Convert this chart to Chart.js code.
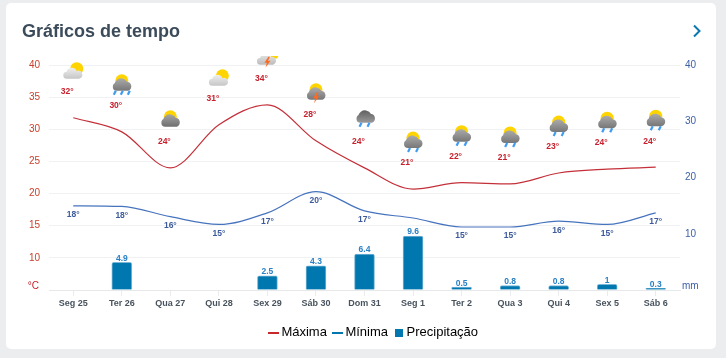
<!DOCTYPE html>
<html lang="pt">
<head>
<meta charset="utf-8">
<title>Gráficos de tempo</title>
<script src="https://cdn.jsdelivr.net/npm/chart.js@4"></script>
<style>
  html, body { margin: 0; padding: 0; width: 726px; height: 358px; background: #ebedef; overflow: hidden; }
  .card { position: absolute; left: 6px; top: 3px; width: 710px; height: 346px; background: #fff; border-radius: 5px; }
  .title { position: absolute; left: 22px; top: 20px; font: bold 18px "Liberation Sans", Arial, sans-serif; line-height: 22px; color: #3c4b5a; z-index: 2; }
  .next { position: absolute; left: 692px; top: 24px; z-index: 2; }
  .wrap { position: absolute; left: 0; top: 0; width: 726px; height: 358px; }
</style>
</head>
<body>
<div class="card"></div>
<div class="title">Gráficos de tempo</div>
<svg class="next" width="10" height="14" viewBox="0 0 10 14"><path d="M2 1.5 L7.5 7 L2 12.5" fill="none" stroke="#0a78b0" stroke-width="2"/></svg>
<div class="wrap"><canvas id="chart"></canvas></div>
<script>
const categories = ['Seg 25', 'Ter 26', 'Qua 27', 'Qui 28', 'Sex 29', 'Sáb 30', 'Dom 31', 'Seg 1', 'Ter 2', 'Qua 3', 'Qui 4', 'Sex 5', 'Sáb 6']
const maxima = [31.8, 29.6, 24, 30.7, 33.8, 28.2, 24, 20.7, 21.7, 21.5, 23.2, 23.8, 24.1]
const minima = [18.1, 18, 16.4, 15.2, 17, 20.3, 17.3, 16.2, 14.8, 14.8, 15.7, 15.2, 17]
const precipitacao = [null, 4.9, null, null, 2.5, 4.3, 6.4, 9.6, 0.5, 0.8, 0.8, 1, 0.3]
const maximaLabels = [32, 30, 24, 31, 34, 28, 24, 21, 22, 21, 23, 24, 24]
const minimaLabels = [18, 18, 16, 15, 17, 20, 17, null, 15, 15, 16, 15, 17]
const icons = ['sun', 'rainSun3', 'cloudSun', 'sun', 'boltLight', 'boltSun', 'rain', 'rainSun2', 'rainSun2', 'rainSun2', 'rainSun2', 'rainSun2', 'rainSun2']

const RED = '#c4303a'
const BLUE = '#4673bd'
const BAR = '#0077ae'
const FONT = '"Liberation Sans", Arial, sans-serif'

// nuvem alta (dome) ou baixa
function drawCloud(ctx, x, y, top, bottom, low) {
  const grad = ctx.createLinearGradient(0, y - 8, 0, y + 5)
  grad.addColorStop(0, top)
  grad.addColorStop(1, bottom)
  ctx.fillStyle = grad
  ctx.beginPath()
  if (low) {
    ctx.arc(x - 6, y + 1.5, 3.5, Math.PI * 0.5, Math.PI * 1.5)
    ctx.arc(x - 1, y - 0.5, 5.5, Math.PI, Math.PI * 1.9)
    ctx.arc(x + 5.5, y + 1, 4, Math.PI * 1.4, Math.PI * 0.5)
  } else {
    ctx.arc(x - 5, y + 1, 4, Math.PI * 0.5, Math.PI * 1.5)
    ctx.arc(x - 0.5, y - 0.5, 7, Math.PI * 1.05, Math.PI * 1.85)
    ctx.arc(x + 5, y + 0.5, 4.5, Math.PI * 1.4, Math.PI * 0.5)
  }
  ctx.closePath()
  ctx.fill()
}

function drawSun(ctx, x, y, r) {
  ctx.fillStyle = '#ffd400'
  ctx.beginPath()
  ctx.arc(x, y, r, 0, Math.PI * 2)
  ctx.fill()
}

function drawDrops(ctx, x, y, count) {
  ctx.strokeStyle = '#3f9cf2'
  ctx.lineWidth = 2.2
  for (let i = 0; i < count; i++) {
    const dx = x + (i - (count - 1) / 2) * (count === 3 ? 7 : 8)
    ctx.beginPath()
    ctx.moveTo(dx + 1, y)
    ctx.lineTo(dx - 1, y + 4)
    ctx.stroke()
  }
}

function drawBolt(ctx, x, y) {
  ctx.fillStyle = '#ff6a1f'
  ctx.beginPath()
  ctx.moveTo(x + 1, y - 5)
  ctx.lineTo(x - 3, y + 1)
  ctx.lineTo(x - 0.5, y + 1)
  ctx.lineTo(x - 2, y + 6)
  ctx.lineTo(x + 3, y - 1)
  ctx.lineTo(x + 0.5, y - 1)
  ctx.lineTo(x + 2.5, y - 5)
  ctx.closePath()
  ctx.fill()
}

function drawIcon(ctx, kind, x, y) {
  if (kind === 'sun') {
    drawSun(ctx, x + 3.5, y - 2, 6.5)
    drawCloud(ctx, x - 0.5, y + 3, '#f6f6f6', '#c6c6c6', true)
  } else if (kind === 'cloudSun') {
    drawSun(ctx, x, y - 4, 6.5)
    drawCloud(ctx, x, y + 1, '#a8a8a8', '#6e6e6e')
  } else if (kind === 'rainSun3' || kind === 'rainSun2') {
    drawSun(ctx, x, y - 4, 6.5)
    drawCloud(ctx, x, y + 1, '#adadad', '#777')
    drawDrops(ctx, x, y + 6, kind === 'rainSun3' ? 3 : 2)
  } else if (kind === 'boltSun') {
    drawSun(ctx, x, y - 4, 6.5)
    drawCloud(ctx, x, y + 1, '#adadad', '#777')
    drawBolt(ctx, x, y + 3.5)
  } else if (kind === 'boltLight') {
    drawSun(ctx, x + 7, y - 3, 4)
    drawCloud(ctx, x - 1, y + 2, '#eee', '#bbb', true)
    drawBolt(ctx, x, y + 4)
  } else if (kind === 'rain') {
    drawCloud(ctx, x + 1, y - 3, '#5e5e5e', '#9a9a9a')
    drawDrops(ctx, x, y + 2, 2)
  }
}

function legendSwatch(color, width, height) {
  const c = document.createElement('canvas')
  c.width = width
  c.height = height
  const g = c.getContext('2d')
  g.fillStyle = color
  g.fillRect(0, 0, width, height)
  return c
}

const pointLabels = {
  id: 'pointLabels',
  afterDatasetsDraw(chart) {
    const { ctx } = chart
    const maxPts = chart.getDatasetMeta(0).data
    const minPts = chart.getDatasetMeta(1).data
    const barPts = chart.getDatasetMeta(2).data
    ctx.save()
    ctx.textAlign = 'center'
    ctx.textBaseline = 'middle'
    ctx.font = 'bold 8.5px ' + FONT
    maxPts.forEach((pt, i) => {
      ctx.fillStyle = '#c8202c'
      ctx.fillText(maximaLabels[i] + '°', pt.x - 6, pt.y - 26)
    })
    minPts.forEach((pt, i) => {
      if (minimaLabels[i] === null) return
      ctx.fillStyle = '#3c5a9c'
      ctx.fillText(minimaLabels[i] + '°', pt.x, pt.y + 9)
    })
    barPts.forEach((pt, i) => {
      if (precipitacao[i] === null) return
      ctx.fillStyle = '#2a80c4'
      ctx.fillText(String(precipitacao[i]), pt.x, pt.y - 4)
    })
    ctx.beginPath()
    ctx.rect(0, 56, chart.width, chart.height - 56)
    ctx.clip()
    maxPts.forEach((pt, i) => drawIcon(ctx, icons[i], pt.x, pt.y - 47))
    ctx.restore()

    // unidades na base dos eixos
    const { y, y1 } = chart.scales
    ctx.save()
    ctx.font = '10px ' + FONT
    ctx.textBaseline = 'middle'
    ctx.fillStyle = '#c8202c'
    ctx.textAlign = 'right'
    ctx.fillText('°C', 39, y.getPixelForValue(5) - 4)
    ctx.fillStyle = '#3c5fa8'
    ctx.textAlign = 'left'
    ctx.fillText('mm', 682, y1.getPixelForValue(0) - 4)
    ctx.restore()
  },
}

new Chart(document.getElementById('chart'), {
  data: {
    labels: categories,
    datasets: [
      {
        type: 'line',
        label: 'Máxima',
        data: maxima,
        borderColor: RED,
        borderWidth: 1.2,
        pointRadius: 0,
        cubicInterpolationMode: 'monotone',
        yAxisID: 'y',
      },
      {
        type: 'line',
        label: 'Mínima',
        data: minima,
        borderColor: BLUE,
        borderWidth: 1.2,
        pointRadius: 0,
        cubicInterpolationMode: 'monotone',
        yAxisID: 'y',
      },
      {
        type: 'bar',
        label: 'Precipitação',
        data: precipitacao,
        backgroundColor: BAR,
        borderColor: '#7ab6d6',
        borderWidth: 1,
        borderRadius: { topLeft: 2, topRight: 2 },
        borderSkipped: 'bottom',
        barThickness: 20,
        yAxisID: 'y1',
      },
    ],
  },
  options: {
    responsive: true,
    maintainAspectRatio: false,
    animation: false,
    // o padding esquerdo desloca a legenda para a direita, como no original
    layout: { padding: { top: 65, bottom: 9, left: 24, right: 0 } },
    plugins: {
      tooltip: { enabled: false },
      legend: {
        position: 'bottom',
        onClick: null,
        labels: {
          usePointStyle: true,
          pointStyleWidth: 3,
          padding: 9,
          color: '#5a6876',
          font: { family: FONT, size: 13 },
          generateLabels: () => [
            { text: 'Máxima', pointStyle: legendSwatch('#c8282c', 11, 2), datasetIndex: 0, lineWidth: 0 },
            { text: 'Mínima', pointStyle: legendSwatch('#0077ae', 11, 2), datasetIndex: 1, lineWidth: 0 },
            { text: 'Precipitação', pointStyle: legendSwatch(BAR, 8, 8), datasetIndex: 2, lineWidth: 0 },
          ],
        },
      },
    },
    scales: {
      x: {
        afterFit: (scale) => { scale.height = 27 },
        grid: { drawOnChartArea: false, offset: false, color: '#e9ebed', tickLength: 6 },
        border: { color: '#e6e8ea' },
        ticks: { color: '#48535e', font: { family: FONT, size: 9, weight: 'bold' }, padding: 2, maxRotation: 0, autoSkip: false },
      },
      y: {
        position: 'left',
        min: 5,
        max: 40,
        afterFit: (scale) => { scale.width = 25 },
        grid: { color: '#f0f1f2', lineWidth: 1, drawTicks: false },
        border: { display: false },
        ticks: {
          stepSize: 5,
          padding: 9,
          color: '#c8402c',
          font: { family: FONT, size: 10 },
          callback: (val) => (val === 5 ? '' : val),
        },
      },
      y1: {
        position: 'right',
        min: 0,
        max: 40,
        afterFit: (scale) => { scale.width = 46 },
        grid: { drawOnChartArea: false, drawTicks: false },
        border: { display: false },
        ticks: {
          stepSize: 10,
          padding: 5,
          color: '#3c5fa8',
          font: { family: FONT, size: 10 },
          callback: (val) => (val === 0 ? '' : val),
        },
      },
    },
  },
  plugins: [pointLabels],
})
</script>
</body>
</html>
